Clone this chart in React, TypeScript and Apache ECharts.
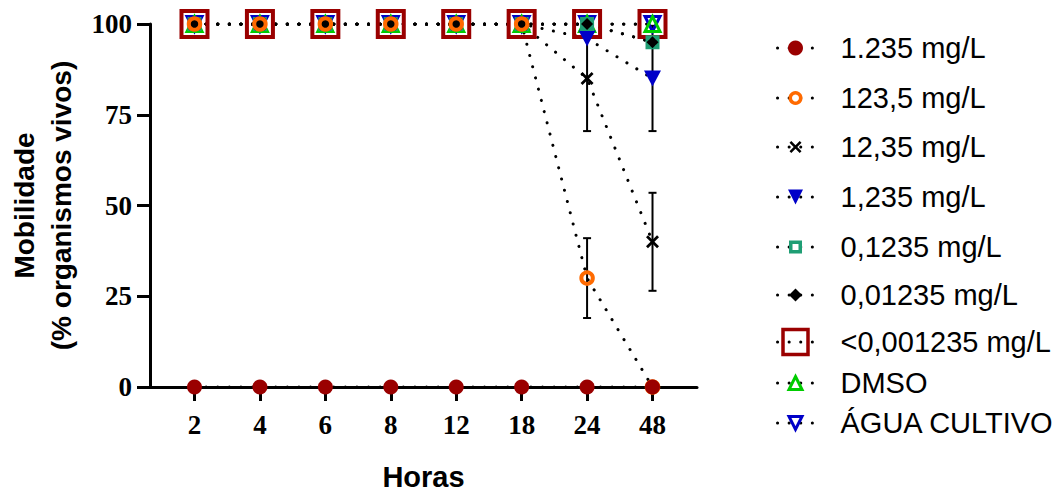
import React, { useEffect, useRef } from "react";
import * as echarts from "echarts";

// ---- data ----
const hours = ["2", "4", "6", "8", "12", "18", "24", "48"];
const xPos = [1, 2, 3, 4, 5, 6, 7, 8];
const yTicks = [0, 25, 50, 75, 100];

const conc1235 = [0, 0, 0, 0, 0, 0, 0, 0]; // 1.235 mg/L
const conc123_5 = [100, 100, 100, 100, 100, 100, 30, 0]; // 123,5 mg/L
const conc12_35 = [100, 100, 100, 100, 100, 100, 85, 40]; // 12,35 mg/L
const conc1_235 = [100, 100, 100, 100, 100, 100, 96, 85]; // 1,235 mg/L
const conc0_1235 = [100, 100, 100, 100, 100, 100, 100, 95]; // 0,1235 mg/L
const conc0_01235 = [100, 100, 100, 100, 100, 100, 100, 95]; // 0,01235 mg/L
const concLow = [100, 100, 100, 100, 100, 100, 100, 100]; // <0,001235 mg/L
const dmso = [100, 100, 100, 100, 100, 100, 100, 100];
const agua = [100, 100, 100, 100, 100, 100, 100, 100];

// standard deviations (0 = no visible bar)
const sd123_5 = [0, 0, 0, 0, 0, 0, 11, 0];
const sd12_35 = [0, 0, 0, 0, 0, 0, 14.5, 13.5];
const sd1_235 = [0, 0, 0, 0, 0, 0, 0, 14.5];

const names = [
  "1.235 mg/L",
  "123,5 mg/L",
  "12,35 mg/L",
  "1,235 mg/L",
  "0,1235 mg/L",
  "0,01235 mg/L",
  "<0,001235 mg/L",
  "DMSO",
  "ÁGUA CULTIVO",
];

const DARKRED = "#9a0000";
const ORANGE = "#ff6a00";
const BLUE = "#0000c8";
const GREEN = "#00cc00";
const TEAL = "#1f9e74";
const CLEAR = "rgba(0,0,0,0)";
const DOWN_TRI = "path://M0,0L10,0L5,9Z";
const CROSS =
  "path://M1.5,0L5,3.5L8.5,0L10,1.5L6.5,5L10,8.5L8.5,10L5,6.5L1.5,10L0,8.5L3.5,5L0,1.5Z";

const toPts = (vals: number[]) => vals.map((v, i) => [xPos[i], v]);

const errData: number[][] = [];
[
  [conc123_5, sd123_5],
  [conc12_35, sd12_35],
  [conc1_235, sd1_235],
].forEach(([m, s]) => {
  m.forEach((v, i) => {
    if (s[i] > 0) errData.push([xPos[i], v - s[i], v + s[i]]);
  });
});

const dotted = { color: "#000", width: 3, type: [0.1, 11.5], cap: "round" };

type SerDef = {
  name: string;
  vals: number[];
  symbol: string;
  size: number | number[];
  item: any;
  legendSize: number;
  legendBorder: number;
};

const defs: Record<string, SerDef> = {
  red: { name: names[0], vals: conc1235, symbol: "circle", size: 15, item: { color: DARKRED }, legendSize: 15, legendBorder: 0 },
  orange: { name: names[1], vals: conc123_5, symbol: "circle", size: 11.5, item: { color: CLEAR, borderColor: ORANGE, borderWidth: 4 }, legendSize: 10.5, legendBorder: 3.5 },
  cross: { name: names[2], vals: conc12_35, symbol: CROSS, size: 13, item: { color: "#000" }, legendSize: 12, legendBorder: 0 },
  bluef: { name: names[3], vals: conc1_235, symbol: DOWN_TRI, size: [17, 16], item: { color: BLUE }, legendSize: 15, legendBorder: 0 },
  teal: { name: names[4], vals: conc0_1235, symbol: "rect", size: 10, item: { color: CLEAR, borderColor: TEAL, borderWidth: 4 }, legendSize: 9.5, legendBorder: 3.5 },
  diamond: { name: names[5], vals: conc0_01235, symbol: "diamond", size: 12, item: { color: "#000" }, legendSize: 13, legendBorder: 0 },
  big: { name: names[6], vals: concLow, symbol: "rect", size: 26, item: { color: CLEAR, borderColor: DARKRED, borderWidth: 4 }, legendSize: 25, legendBorder: 3.5 },
  dmso: { name: names[7], vals: dmso, symbol: "triangle", size: 15, item: { color: CLEAR, borderColor: GREEN, borderWidth: 3 }, legendSize: 13, legendBorder: 3 },
  agua: { name: names[8], vals: agua, symbol: DOWN_TRI, size: 15, item: { color: CLEAR, borderColor: BLUE, borderWidth: 3 }, legendSize: 13, legendBorder: 3 },
};

const drawOrderBefore = ["agua", "dmso", "big", "bluef", "teal", "diamond"];
const drawOrderAfter = ["cross", "orange", "red"];
const legendOrder = ["red", "orange", "cross", "bluef", "teal", "diamond", "big", "dmso", "agua"];
const legendRowY = [48, 98, 147, 197, 247, 295, 342, 383, 423];

const lineSeries = (key: string) => {
  const d = defs[key];
  return {
    type: "line",
    name: d.name,
    data: toPts(d.vals),
    symbol: d.symbol,
    symbolSize: d.size,
    showAllSymbol: true,
    itemStyle: d.item,
    lineStyle: dotted,
    emphasis: { disabled: true },
  };
};

export default function App() {
  const ref = useRef<HTMLDivElement>(null);
  useEffect(() => {
    if (!ref.current) return;
    const chart = echarts.init(ref.current, null, { renderer: "svg" });
    const serif = "'Liberation Serif', 'Times New Roman', serif";
    const sans = "'Liberation Sans', Arial, sans-serif";

    const errorSeries = {
      type: "custom",
      name: "err",
      data: errData,
      encode: { x: 0, y: [1, 2] },
      renderItem: (_p: any, api: any) => {
        const x = api.value(0);
        const top = api.coord([x, api.value(2)]);
        const bot = api.coord([x, api.value(1)]);
        const hw = 4;
        const style = { stroke: "#000", lineWidth: 2 };
        return {
          type: "group",
          children: [
            { type: "line", shape: { x1: top[0], y1: top[1], x2: bot[0], y2: bot[1] }, style },
            { type: "line", shape: { x1: top[0] - hw, y1: top[1], x2: top[0] + hw, y2: top[1] }, style },
            { type: "line", shape: { x1: bot[0] - hw, y1: bot[1], x2: bot[0] + hw, y2: bot[1] }, style },
          ],
        };
      },
    };

    const legends = legendOrder.map((key, i) => {
      const d = defs[key];
      const ih = d.legendSize / 0.8;
      return {
        data: [d.name],
        left: 776,
        top: legendRowY[i] - 19,
        padding: 0,
        selectedMode: false,
        itemWidth: 36,
        itemHeight: ih,
        itemStyle: { borderWidth: d.legendBorder },
        lineStyle: { width: 3 },
        textStyle: {
          fontSize: 29,
          fontFamily: sans,
          color: "#000",
          lineHeight: 38,
          padding: [0, 0, 0, 22],
        },
      };
    });

    chart.setOption({
      animation: false,
      backgroundColor: "#fff",
      grid: { left: 150, right: 366, top: 24, bottom: 105, outerBoundsMode: "none", containLabel: false },
      legend: legends,
      xAxis: {
        type: "value",
        min: 0.32,
        max: 8.68,
        name: "Horas",
        nameLocation: "middle",
        nameGap: 75,
        nameTextStyle: { fontSize: 29, fontWeight: "bold", fontFamily: sans, color: "#000", lineHeight: 29 },
        splitLine: { show: false },
        axisLine: { onZero: false, lineStyle: { color: "#000", width: 3 } },
        axisTick: { show: true, customValues: xPos, length: 14, lineStyle: { color: "#000", width: 3 } },
        axisLabel: {
          customValues: xPos,
          formatter: (v: number) => hours[Math.round(v) - 1],
          fontSize: 27,
          fontWeight: "bold",
          fontFamily: serif,
          color: "#000",
          margin: 24,
        },
      },
      yAxis: {
        type: "value",
        min: 0,
        max: 100,
        interval: 25,
        name: "Mobilidade\n(% organismos vivos)",
        nameLocation: "middle",
        nameGap: 70,
        nameTextStyle: { fontSize: 28, fontWeight: "bold", fontFamily: sans, color: "#000", lineHeight: 37 },
        splitLine: { show: false },
        axisLine: { show: true, lineStyle: { color: "#000", width: 3 } },
        axisTick: { show: true, length: 13, lineStyle: { color: "#000", width: 3 } },
        axisLabel: {
          fontSize: 27,
          fontWeight: "bold",
          fontFamily: serif,
          color: "#000",
          margin: 18,
          formatter: (v: number) => (yTicks.includes(v) ? String(v) : ""),
        },
      },
      series: [
        ...drawOrderBefore.map(lineSeries),
        errorSeries,
        ...drawOrderAfter.map(lineSeries),
      ],
    });
    return () => chart.dispose();
  }, []);
  return (
    <div
      ref={ref}
      style={{ position: "fixed", left: 0, top: 0, width: 1063, height: 492, background: "#fff" }}
    />
  );
}
